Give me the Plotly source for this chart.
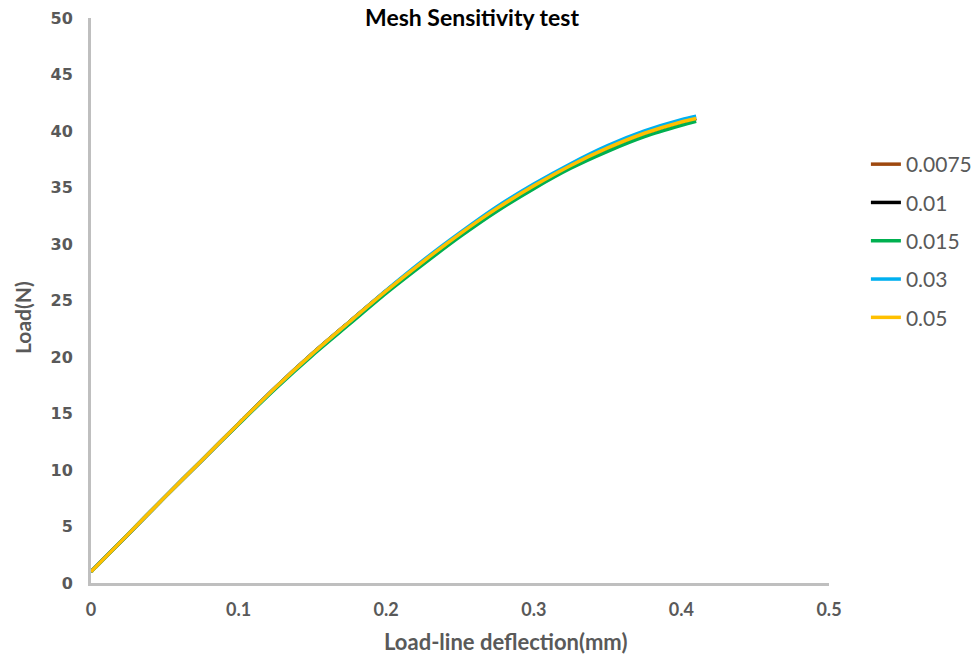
import plotly.graph_objects as go

# Data
deflection = [0.0, 0.025, 0.05, 0.075, 0.10, 0.125, 0.15, 0.175, 0.20, 0.225,
              0.25, 0.275, 0.30, 0.325, 0.35, 0.375, 0.40, 0.41]
load_00075 = [1.0, 4.3, 7.6, 10.85, 14.1, 17.3, 20.3, 23.1, 25.85, 28.45,
              30.9, 33.15, 35.15, 36.95, 38.5, 39.8, 40.8, 41.1]
load_001   = [1.0, 4.3, 7.6, 10.85, 14.1, 17.3, 20.3, 23.1, 25.85, 28.45,
              30.9, 33.15, 35.15, 36.95, 38.5, 39.8, 40.8, 41.1]
load_0015  = [1.0, 4.3, 7.6, 10.85, 14.05, 17.2, 20.15, 22.9, 25.65, 28.2,
              30.65, 32.9, 34.9, 36.7, 38.2, 39.5, 40.5, 40.85]
load_003   = [1.0, 4.3, 7.6, 10.85, 14.1, 17.3, 20.3, 23.1, 25.9, 28.55,
              31.0, 33.3, 35.3, 37.1, 38.7, 40.0, 41.0, 41.3]
load_005   = [1.0, 4.3, 7.6, 10.85, 14.1, 17.3, 20.3, 23.1, 25.85, 28.45,
              30.9, 33.15, 35.15, 36.95, 38.5, 39.8, 40.8, 41.1]

series_names = ["0.0075", "0.01", "0.015", "0.03", "0.05"]
series_values = [load_00075, load_001, load_0015, load_003, load_005]
series_colors = ["#9e480e", "#000000", "#00b050", "#00b0f0", "#ffc000"]

x_ticks = [0, 0.1, 0.2, 0.3, 0.4, 0.5]
x_tick_labels = ["0", "0.1", "0.2", "0.3", "0.4", "0.5"]
y_ticks = [0, 5, 10, 15, 20, 25, 30, 35, 40, 45, 50]

fig = go.Figure()
for name, vals, col in zip(series_names, series_values, series_colors):
    fig.add_trace(go.Scatter(
        x=deflection, y=vals, name=name, mode="lines",
        line=dict(color=col, width=3.5, shape="spline", smoothing=0.8),
        legendgroup=name,
    ))

gray = "#595959"
fig.update_layout(
    width=979, height=657,
    margin=dict(l=91, r=150, t=18, b=74, autoexpand=False),
    paper_bgcolor="white", plot_bgcolor="white",
    showlegend=True,
    legend=dict(
        x=1.05, y=0.777, xanchor="left", yanchor="top",
        font=dict(family="Lato, Carlito, sans-serif", size=21, color=gray),
        itemwidth=30, tracegroupgap=8, traceorder="grouped",
        bgcolor="rgba(0,0,0,0)",
    ),
    xaxis=dict(
        range=[0, 0.5], tickvals=x_ticks, ticktext=x_tick_labels,
        showgrid=False, zeroline=False,
        showline=True, linecolor="#bfbfbf", linewidth=3,
        ticks="", ticklabelstandoff=8,
        tickfont=dict(family="Lato, sans-serif", size=18, color=gray, weight="bold"),
    ),
    yaxis=dict(
        range=[0, 50], tickvals=y_ticks,
        showgrid=False, zeroline=False,
        showline=True, linecolor="#bfbfbf", linewidth=3,
        ticks="", ticklabelstandoff=12,
        tickfont=dict(family="DejaVu Sans", size=16, color=gray, weight="bold"),
    ),
    annotations=[
        dict(text="<b>Mesh Sensitivity test</b>", xref="paper", yref="paper",
             x=(472 - 91) / 738, y=(583 - 17) / 565, xanchor="center", yanchor="middle",
             showarrow=False, font=dict(family="Lato, sans-serif", size=23, color="black")),
        dict(text="<b>Load-line deflection(mm)</b>", xref="paper", yref="paper",
             x=(505 - 91) / 738, y=(583 - 641) / 565, xanchor="center", yanchor="middle",
             showarrow=False, font=dict(family="Lato, sans-serif", size=22, color=gray)),
        dict(text="<b>Load(N)</b>", xref="paper", yref="paper",
             x=(23 - 91) / 738, y=(583 - 318) / 565, xanchor="center", yanchor="middle",
             textangle=-90, showarrow=False,
             font=dict(family="Lato, sans-serif", size=21, color=gray)),
    ],
)

fig.write_html("out.html", config={"displayModeBar": False},
               post_script="document.body.style.margin='0px';")
